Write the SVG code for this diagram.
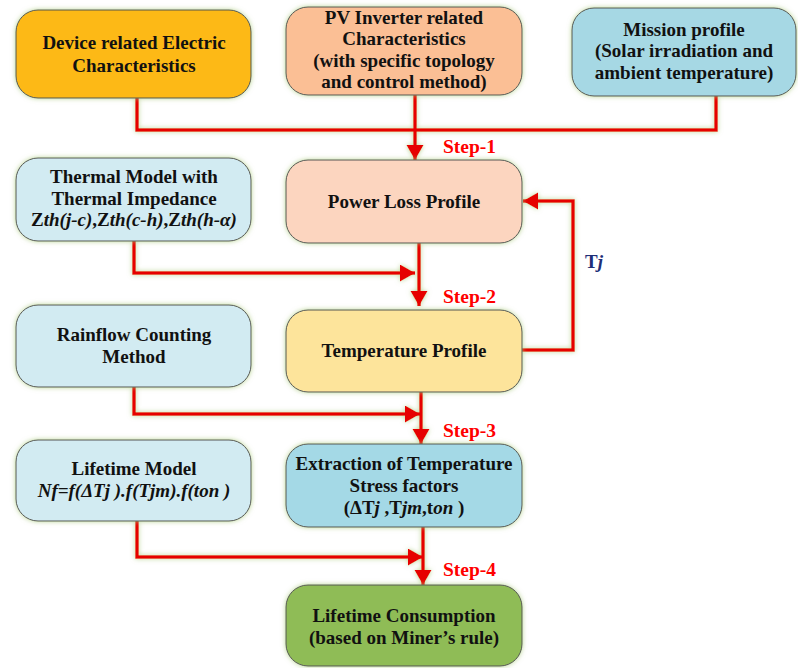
<svg xmlns="http://www.w3.org/2000/svg" width="798" height="668" viewBox="0 0 798 668">
<defs>
<filter id="glow" x="-10%" y="-10%" width="120%" height="120%">
<feGaussianBlur in="SourceAlpha" stdDeviation="2.5" result="b"/>
<feFlood flood-color="#a8c97a" flood-opacity="0.8"/>
<feComposite in2="b" operator="in" result="g"/>
<feMerge><feMergeNode in="g"/><feMergeNode in="SourceGraphic"/></feMerge>
</filter>
<marker id="arr" markerUnits="userSpaceOnUse" markerWidth="16" markerHeight="18" refX="15" refY="8.5" orient="auto">
<path d="M0,0 L15,8.5 L0,17 z" fill="#e60000"/>
</marker>
<style>
.box{stroke:#555;stroke-width:1;filter:url(#glow)}
.t{font-family:"Liberation Serif","Times New Roman",serif;font-weight:bold;font-size:19px;fill:#111;text-anchor:middle}
.i{font-style:italic}
.step{font-family:"Liberation Serif","Times New Roman",serif;font-weight:bold;font-size:19.5px;fill:#ff0000}
.c{fill:none;stroke:#e60000;stroke-width:3.5;stroke-linejoin:miter}
.glowline{filter:url(#glow)}
</style>
</defs>
<rect width="798" height="668" fill="#fff"/>

<g id="connectors" class="glowline">
<path class="c" d="M137,98 V130 H716 V96"/>
<path class="c" d="M415,95 V160" marker-end="url(#arr)"/>
<path class="c" d="M134,241 V273 H415" marker-end="url(#arr)"/>
<path class="c" d="M419,243 V306" marker-end="url(#arr)"/>
<path class="c" d="M522,350 H573 V201 H523" marker-end="url(#arr)"/>
<path class="c" d="M134,387 V414 H420" marker-end="url(#arr)"/>
<path class="c" d="M421,392 V444" marker-end="url(#arr)"/>
<path class="c" d="M137,521 V557 H423" marker-end="url(#arr)"/>
<path class="c" d="M423,527 V585" marker-end="url(#arr)"/>
</g>

<g id="n-device">
<rect class="box" x="16" y="10" width="235" height="88" rx="22" fill="#fdb913"/>
<text class="t" x="134" y="49">Device related Electric</text>
<text class="t" x="134" y="72">Characteristics</text>
</g>
<g id="n-pv">
<rect class="box" x="286" y="7" width="236" height="88" rx="22" fill="#fbbf95"/>
<text class="t" x="404" y="24">PV Inverter related</text>
<text class="t" x="404" y="45">Characteristics</text>
<text class="t" x="404" y="67">(with specific topology</text>
<text class="t" x="404" y="88">and control method)</text>
</g>
<g id="n-mission">
<rect class="box" x="572" y="8" width="224" height="88" rx="22" fill="#a6d8e4"/>
<text class="t" x="684" y="36">Mission profile</text>
<text class="t" x="684" y="57">(Solar irradiation and</text>
<text class="t" x="684" y="79">ambient temperature)</text>
</g>
<g id="n-thermal">
<rect class="box" x="16" y="158" width="235" height="83" rx="22" fill="#d2ebf2"/>
<text class="t" x="134" y="183">Thermal Model with</text>
<text class="t" x="134" y="205">Thermal Impedance</text>
<text class="t" x="134" y="226">Z<tspan class="i">th(j-c)</tspan>,Z<tspan class="i">th(c-h)</tspan>,Z<tspan class="i">th(h-α)</tspan></text>
</g>
<g id="n-powerloss">
<rect class="box" x="286" y="160" width="236" height="83" rx="22" fill="#fcd5bf"/>
<text class="t" x="404" y="208">Power Loss Profile</text>
</g>
<g id="n-rainflow">
<rect class="box" x="16" y="305" width="235" height="82" rx="22" fill="#d2ebf2"/>
<text class="t" x="134" y="341">Rainflow Counting</text>
<text class="t" x="134" y="363">Method</text>
</g>
<g id="n-temperature">
<rect class="box" x="286" y="310" width="236" height="82" rx="22" fill="#fde49b"/>
<text class="t" x="404" y="357">Temperature Profile</text>
</g>
<g id="n-lifetime-model">
<rect class="box" x="16" y="440" width="235" height="81" rx="22" fill="#d2ebf2"/>
<text class="t" x="134" y="475">Lifetime Model</text>
<text class="t i" x="134" y="497">Nf=f(ΔTj ).f(Tjm).f(ton )</text>
</g>
<g id="n-extraction">
<rect class="box" x="286" y="444" width="236" height="83" rx="22" fill="#a4d9e6"/>
<text class="t" x="404" y="470">Extraction of Temperature</text>
<text class="t" x="404" y="492">Stress factors</text>
<text class="t" x="404" y="514">(ΔT<tspan class="i">j</tspan> ,T<tspan class="i">jm</tspan>,t<tspan class="i">on</tspan> )</text>
</g>
<g id="n-consumption">
<rect class="box" x="286" y="585" width="236" height="81" rx="22" fill="#8fbc56"/>
<text class="t" x="404" y="622">Lifetime Consumption</text>
<text class="t" x="404" y="644">(based on Miner’s rule)</text>
</g>

<g id="labels">
<text class="step" x="443" y="153">Step-1</text>
<text class="step" x="443" y="303">Step-2</text>
<text class="step" x="443" y="437">Step-3</text>
<text class="step" x="443" y="576">Step-4</text>
<text x="585" y="268" font-family="Liberation Serif, serif" font-weight="bold" font-size="19" fill="#1f2f78">T<tspan font-style="italic">j</tspan></text>
</g>
</svg>
